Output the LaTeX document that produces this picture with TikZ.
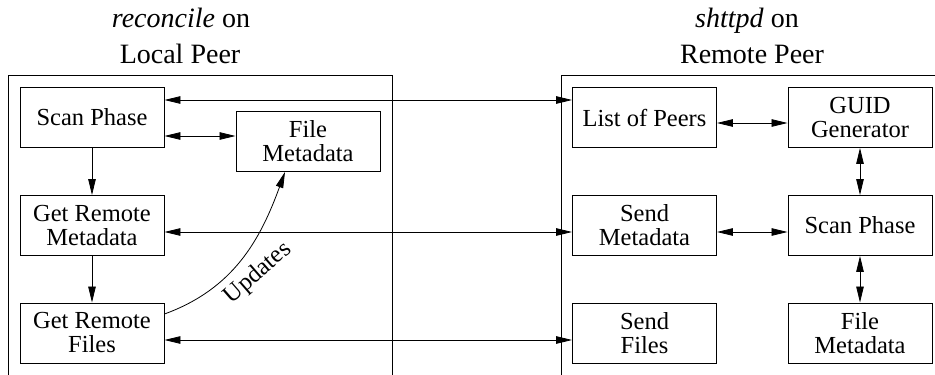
\documentclass[tikz,border=0pt]{standalone}
\usepackage{fontspec}
\setmainfont{Liberation Serif}
\usetikzlibrary{arrows.meta}

\begin{document}
\begin{tikzpicture}[x=1pt, y=-1pt,
    blk/.style={draw, line width=0.9pt, minimum width=144pt, minimum height=60pt,
      inner sep=0pt, align=center, font=\fontsize{24.5}{24}\selectfont},
    ttl/.style={anchor=base, font=\fontsize{28}{30}\selectfont},
    link/.style={line width=0.8pt, {Triangle[length=16pt,width=7.5pt]}-{Triangle[length=16pt,width=7.5pt]}},
    flow/.style={line width=0.8pt, -{Triangle[length=16pt,width=7.5pt]}}]
      \useasboundingbox (0,0) rectangle (935,375);

      % titles
      \node[ttl] (tlocA) at (181,27) {\textit{reconcile} on};
      \node[ttl] (tlocB) at (180,63) {Local Peer};
      \node[ttl] (tremA) at (747,27) {\textit{shttpd} on};
      \node[ttl] (tremB) at (752,63) {Remote Peer};

      % frames
      \draw[line width=0.9pt] (8,375) |- (392,75) -- (392,375);
      \draw[line width=0.9pt] (561,375) |- (935,75);

      % local peer
      \node[blk] (scanL) at (92,117.5) {Scan Phase};
      \node[blk] (fileL) at (308,141.5) {File\\Metadata};
      \node[blk] (getMeta) at (92,225.5) {Get Remote\\Metadata};
      \node[blk] (getFiles) at (92,333) {Get Remote\\Files};

      % remote peer
      \node[blk] (peers) at (644.5,117.5) {List of Peers};
      \node[blk] (guid) at (860,117.5) {GUID\\Generator};
      \node[blk] (sendMeta) at (644.5,225.5) {Send\\Metadata};
      \node[blk] (scanR) at (860,225.5) {Scan Phase};
      \node[blk] (sendFiles) at (644.5,333) {Send\\Files};
      \node[blk] (fileR) at (860,333) {File\\Metadata};

      \draw[flow] (scanL) -- (getMeta);
      \draw[flow] (getMeta) -- (getFiles);
      \draw[link] ([yshift=-18.5pt]scanL.east) -- ([yshift=5.5pt]fileL.west);
      \draw[flow] ([yshift=19pt]getFiles.east) to[out=20, in=-110]
        node[pos=0.5, xshift=17pt, yshift=-14pt, rotate=41, inner sep=0pt,
          font=\fontsize{24.5}{24}\selectfont] (upd) {Updates}
        ([xshift=-23pt]fileL.south);

      \draw[link] ([yshift=17.5pt]scanL.east) -- ([yshift=17.5pt]peers.west);
      \draw[link] ([yshift=-6.5pt]getMeta.east) -- ([yshift=-6.5pt]sendMeta.west);
      \draw[link] ([yshift=-7pt]getFiles.east) -- ([yshift=-7pt]sendFiles.west);

      \draw[link] ([yshift=-5.5pt]peers.east) -- ([yshift=-5.5pt]guid.west);
      \draw[link] (guid) -- (scanR);
      \draw[link] ([yshift=-6.5pt]sendMeta.east) -- ([yshift=-6.5pt]scanR.west);
      \draw[link] (scanR) -- (fileR);

\end{tikzpicture}
\end{document}
